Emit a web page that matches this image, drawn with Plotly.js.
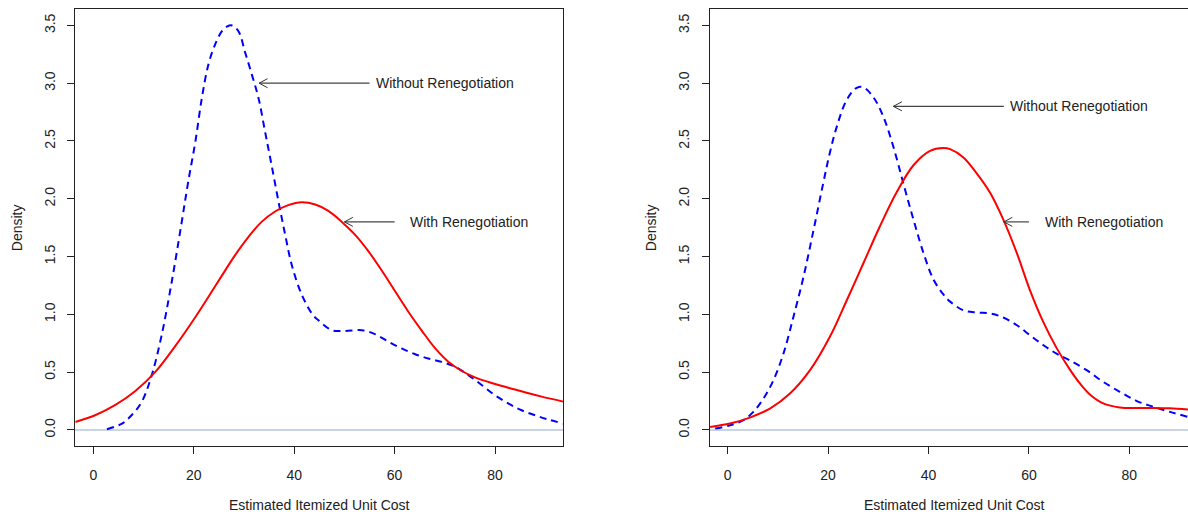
<!DOCTYPE html>
<html>
<head>
<meta charset="utf-8">
<script src="https://cdn.plot.ly/plotly-3.0.1.min.js"></script>
<style>html,body{margin:0;padding:0;background:#fff;}#chart{width:1188px;height:512px;}</style>
</head>
<body>
<div id="chart"></div>
<script>
// ---- Left panel data ----
const leftBlueX = [2.7,5.7,7.6,9.6,11.6,13.6,15.6,17.6,18.9,20.3,21.6,22.9,24.2,25.6,26.6,27.6,28.9,30.2,31.6,32.9,34.2,35.5,36.9,38.2,39.5,41.5,43.8,44.8,47.5,50.1,53.5,56.1,58.8,61.4,64.1,66.7,69.4,72.1,74.7,77.4,80.0,82.7,85.3,88.0,90.6,93.6];
const leftBlueY = [0.006,0.055,0.127,0.24,0.47,0.82,1.28,1.80,2.15,2.49,2.87,3.16,3.33,3.45,3.49,3.50,3.45,3.27,3.07,2.87,2.58,2.29,1.97,1.69,1.43,1.17,0.99,0.95,0.863,0.857,0.863,0.829,0.762,0.705,0.655,0.618,0.589,0.545,0.474,0.387,0.30,0.228,0.17,0.127,0.09,0.055];
const leftRedX = [-3.6,0.34,4.3,8.3,12.3,16.3,20.3,22.9,25.6,28.2,30.9,33.5,36.2,38.8,41.5,44.2,46.8,49.5,52.1,54.8,57.5,60.1,62.7,65.4,68.1,70.7,73.4,76.0,78.7,81.4,84.0,86.7,89.3,93.6];
const leftRedY = [0.069,0.127,0.214,0.335,0.50,0.725,0.975,1.15,1.335,1.51,1.67,1.80,1.89,1.945,1.97,1.95,1.895,1.80,1.69,1.545,1.375,1.20,1.025,0.86,0.705,0.59,0.51,0.455,0.415,0.38,0.35,0.317,0.288,0.245];

// ---- Right panel data ----
const rightBlueX = [-2.5,0.46,3.1,5.1,7.1,9.1,11.1,13.1,15.1,17.1,19.0,20.3,21.7,23.7,25.7,27.0,29.0,31.0,33.0,35.0,37.0,39.0,41.0,43.0,44.3,46.9,49.6,52.3,54.9,57.6,60.2,62.9,65.5,68.2,71.5,74.8,78.1,81.5,84.8,88.1,91.7];
const rightBlueY = [0.012,0.04,0.084,0.156,0.27,0.43,0.66,0.98,1.325,1.73,2.13,2.39,2.62,2.855,2.96,2.965,2.88,2.71,2.45,2.13,1.82,1.53,1.30,1.17,1.11,1.036,1.016,1.008,0.973,0.906,0.82,0.733,0.66,0.60,0.517,0.416,0.33,0.25,0.2,0.156,0.113];
const rightRedX = [-3.5,0.46,4.4,8.4,12.4,16.4,20.4,23.7,27.0,30.3,33.7,37.0,40.3,42.9,44.3,46.9,49.6,52.3,54.9,57.6,60.2,62.9,65.5,68.2,70.2,72.2,74.8,78.1,81.5,84.8,88.1,91.7];
const rightRedY = [0.026,0.055,0.107,0.185,0.315,0.517,0.81,1.12,1.44,1.76,2.06,2.29,2.415,2.44,2.43,2.36,2.22,2.05,1.82,1.53,1.21,0.93,0.71,0.52,0.40,0.305,0.23,0.195,0.19,0.19,0.187,0.177];

// ---- Ticks and labels ----
const xTickVals = [0,20,40,60,80];
const yTickVals = [0,0.5,1,1.5,2,2.5,3,3.5];
const yTickText = ["0.0","0.5","1.0","1.5","2.0","2.5","3.0","3.5"];
const xTitle = "Estimated Itemized Unit Cost";
const yTitle = "Density";
const labelTexts = ["Without Renegotiation","With Renegotiation"];
// annotation arrows: [panel 1 without, panel 1 with, panel 2 without, panel 2 with]
const arrowPanel = [1,1,2,2];
const arrowY = [3.0,1.8,2.8,1.8];
const arrowHeadX = [33,50,33,55];
const arrowTailX = [55,60,55,60];
const labelX = [55.9,62.7,55.8,62.8];
const labelIdx = [0,1,0,1];

const FONT = "Liberation Sans, Arial, Helvetica, sans-serif";
const TXT = "#222";

function curve(x, y, xa, ya, color, dash) {
  return {x: x, y: y, xaxis: xa, yaxis: ya, type: "scatter", mode: "lines",
    line: {color: color, width: 2, dash: dash, shape: "spline", smoothing: 1},
    hoverinfo: "skip", showlegend: false};
}
const data = [
  curve(leftBlueX, leftBlueY, "x", "y", "#0000ff", "7px,5px"),
  curve(leftRedX, leftRedY, "x", "y", "#ff0000", "solid"),
  curve(rightBlueX, rightBlueY, "x2", "y2", "#0000ff", "7px,5px"),
  curve(rightRedX, rightRedY, "x2", "y2", "#ff0000", "solid")
];

function xax(domain, range, anchor) {
  return {domain: domain, range: range, anchor: anchor, tickvals: xTickVals,
    ticks: "outside", ticklen: 7, tickcolor: TXT, tickwidth: 1, ticklabelstandoff: 9,
    showline: true, linecolor: TXT, linewidth: 1, mirror: true,
    showgrid: false, zeroline: false, tickfont: {family: FONT, size: 14, color: TXT},
    fixedrange: true};
}
function yax(anchor, mirror) {
  return {domain: [0,1], range: [-0.139, 3.642], anchor: anchor, tickvals: yTickVals, ticktext: yTickText,
    tickangle: -90, ticks: "outside", ticklen: 7, tickcolor: TXT, tickwidth: 1, ticklabelstandoff: 7,
    showline: true, linecolor: TXT, linewidth: 1, mirror: mirror,
    showgrid: false, zeroline: true, zerolinecolor: "#c9d4e6", zerolinewidth: 1.5,
    tickfont: {family: FONT, size: 14, color: TXT}, fixedrange: true};
}

const annotations = [];
const shapes = [];
for (let i = 0; i < arrowY.length; i++) {
  const xr = arrowPanel[i] === 1 ? "x" : "x2";
  const yr = arrowPanel[i] === 1 ? "y" : "y2";
  annotations.push({xref: xr, yref: yr, x: labelX[i], y: arrowY[i], text: labelTexts[labelIdx[i]],
    showarrow: false, xanchor: "left", yanchor: "middle", font: {family: FONT, size: 14, color: TXT}});
  shapes.push({type: "line", xref: xr, yref: yr, x0: arrowTailX[i], y0: arrowY[i], x1: arrowHeadX[i], y1: arrowY[i],
    line: {color: "#444", width: 1.2}});
  [4.5, -4.5].forEach(function (dy) {
    shapes.push({type: "line", xref: xr, yref: yr, xsizemode: "pixel", ysizemode: "pixel",
      xanchor: arrowHeadX[i], yanchor: arrowY[i], x0: 0, y0: 0, x1: 8.5, y1: dy,
      line: {color: "#333", width: 1}});
  });
}
// axis titles
const dom1 = [75.3/1188, 563.3/1188];
const dom2 = [710/1188, 1];
[[dom1, 16.7, 563.3], [dom2, 650.7, 1198]].forEach(function (p) {
  annotations.push({xref: "paper", yref: "paper", x: p[1]/1188, y: 0.5, text: yTitle, textangle: -90,
    showarrow: false, xanchor: "center", yanchor: "middle", font: {family: FONT, size: 14, color: TXT}});
  annotations.push({xref: "paper", yref: "paper", x: (p[0][0] + p[2]/1188) / 2, y: -0.135,
    text: xTitle, showarrow: false, xanchor: "center", yanchor: "middle", font: {family: FONT, size: 14, color: TXT}});
});

const layout = {
  width: 1188, height: 512,
  margin: {l: 0, r: 0, t: 9, b: 66},
  paper_bgcolor: "#fff", plot_bgcolor: "#fff",
  font: {family: FONT, size: 14, color: TXT},
  showlegend: false,
  xaxis: xax(dom1, [-3.6, 93.6], "y"),
  yaxis: yax("x", true),
  xaxis2: xax(dom2, [-3.53, 91.69], "y2"),
  yaxis2: yax("x2", false),
  annotations: annotations,
  shapes: shapes
};
Plotly.newPlot("chart", data, layout, {displayModeBar: false, staticPlot: true});
</script>
</body>
</html>
